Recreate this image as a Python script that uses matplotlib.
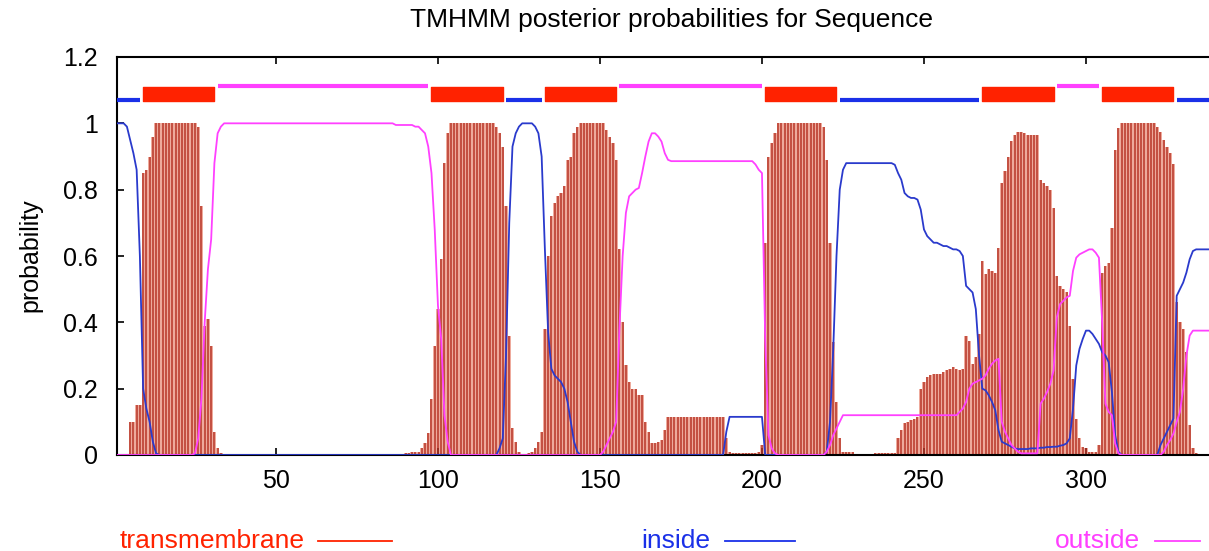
import matplotlib
matplotlib.use('Agg')
import matplotlib.pyplot as plt
from matplotlib.lines import Line2D
import numpy as np

# posterior probabilities per residue (1..338)
tm = [0, 0, 0, 0, 0.10, 0.10, 0.15, 0.15, 0.85, 0.86, 0.90, 0.96, 1, 1, 1, 1, 1, 1, 1, 1,
      1, 1, 1, 1, 1, 0.99, 0.75, 0.39, 0.41, 0.33, 0.07, 0.02, 0.005, 0.003, 0, 0, 0, 0, 0, 0,
      0, 0, 0, 0, 0, 0, 0, 0, 0, 0, 0, 0, 0, 0, 0, 0, 0, 0, 0, 0,
      0, 0, 0, 0, 0, 0, 0, 0, 0, 0, 0, 0, 0, 0, 0, 0, 0, 0, 0, 0,
      0, 0, 0, 0, 0, 0, 0, 0.003, 0.003, 0.005, 0.005, 0.008, 0.01, 0.01, 0.02, 0.035, 0.065, 0.17, 0.33, 0.44,
      0.59, 0.88, 0.97, 1, 1, 1, 1, 1, 1, 1, 1, 1, 1, 1, 1, 1, 1, 0.99, 0.97, 0.93,
      0.75, 0.36, 0.08, 0.04, 0.01, 0, 0, 0.005, 0.01, 0.02, 0.04, 0.07, 0.38, 0.6, 0.72, 0.76, 0.78, 0.79, 0.81, 0.89,
      0.9, 0.97, 0.99, 1, 1, 1, 1, 1, 1, 1, 1, 0.98, 0.96, 0.94, 0.89, 0.62, 0.4, 0.27, 0.22, 0.2,
      0.2, 0.18, 0.18, 0.1, 0.07, 0.035, 0.035, 0.04, 0.045, 0.075, 0.115, 0.115, 0.115, 0.115, 0.115, 0.115, 0.115, 0.115, 0.115, 0.115,
      0.115, 0.115, 0.115, 0.115, 0.115, 0.115, 0.115, 0.115, 0.05, 0.01, 0.005, 0.005, 0.005, 0.005, 0.005, 0.005, 0.005, 0.005, 0.01, 0.03,
      0.64, 0.9, 0.94, 0.97, 1, 1, 1, 1, 1, 1, 1, 1, 1, 1, 1, 1, 1, 1, 0.99, 0.89,
      0.64, 0.34, 0.16, 0.05, 0.01, 0.01, 0.01, 0.01, 0, 0, 0, 0, 0, 0, 0.005, 0.005, 0.005, 0.005, 0.005, 0.005,
      0.005, 0.05, 0.075, 0.095, 0.1, 0.105, 0.11, 0.115, 0.2, 0.22, 0.235, 0.24, 0.245, 0.245, 0.245, 0.25, 0.255, 0.26, 0.265, 0.26,
      0.255, 0.26, 0.36, 0.345, 0.275, 0.295, 0.365, 0.585, 0.545, 0.56, 0.555, 0.55, 0.625, 0.82, 0.855, 0.9, 0.946, 0.965, 0.975, 0.975,
      0.97, 0.965, 0.965, 0.965, 0.965, 0.83, 0.82, 0.81, 0.8, 0.745, 0.54, 0.51, 0.5, 0.49, 0.39, 0.23, 0.11, 0.05, 0.025, 0.02,
      0.008, 0.008, 0.008, 0.03, 0.55, 0.57, 0.58, 0.685, 0.92, 0.985, 1, 1, 1, 1, 1, 1, 1, 1, 1, 1,
      1, 0.99, 0.975, 0.95, 0.93, 0.91, 0.876, 0.46, 0.4, 0.38, 0.31, 0.09, 0.02, 0.005, 0, 0, 0, 0]

inside = [1, 1, 1, 0.99, 0.95, 0.91, 0.86, 0.6, 0.2, 0.14, 0.1, 0.04, 0.005, 0, 0, 0, 0, 0, 0, 0,
          0, 0, 0, 0, 0, 0, 0, 0, 0, 0, 0, 0, 0, 0, 0, 0, 0, 0, 0, 0,
          0, 0, 0, 0, 0, 0, 0, 0, 0, 0, 0, 0, 0, 0, 0, 0, 0, 0, 0, 0,
          0, 0, 0, 0, 0, 0, 0, 0, 0, 0, 0, 0, 0, 0, 0, 0, 0, 0, 0, 0,
          0, 0, 0, 0, 0, 0, 0, 0, 0, 0, 0, 0, 0, 0, 0, 0, 0, 0, 0, 0,
          0, 0, 0, 0, 0, 0, 0, 0, 0, 0, 0, 0, 0, 0, 0, 0, 0, 0, 0.02, 0.05,
          0.3, 0.7, 0.93, 0.97, 0.99, 1, 1, 1, 1, 0.99, 0.97, 0.9, 0.62, 0.37, 0.26, 0.24, 0.23, 0.22, 0.2, 0.16,
          0.1, 0.04, 0.01, 0, 0, 0, 0, 0, 0, 0, 0, 0, 0, 0, 0, 0, 0, 0, 0, 0,
          0, 0, 0, 0, 0, 0, 0, 0, 0, 0, 0, 0, 0, 0, 0, 0, 0, 0, 0, 0,
          0, 0, 0, 0, 0, 0, 0, 0, 0.07, 0.115, 0.115, 0.115, 0.115, 0.115, 0.115, 0.115, 0.115, 0.115, 0.115, 0.115,
          0, 0, 0, 0, 0, 0, 0, 0, 0, 0, 0, 0, 0, 0, 0, 0, 0, 0, 0, 0.01,
          0.1, 0.32, 0.6, 0.8, 0.86, 0.88, 0.88, 0.88, 0.88, 0.88, 0.88, 0.88, 0.88, 0.88, 0.88, 0.88, 0.88, 0.88, 0.88, 0.88,
          0.875, 0.85, 0.83, 0.79, 0.78, 0.775, 0.775, 0.77, 0.74, 0.68, 0.66, 0.65, 0.64, 0.64, 0.635, 0.63, 0.63, 0.625, 0.62, 0.62,
          0.615, 0.6, 0.51, 0.5, 0.49, 0.44, 0.3, 0.2, 0.195, 0.18, 0.16, 0.135, 0.075, 0.04, 0.035, 0.03, 0.025, 0.02, 0.018, 0.018,
          0.018, 0.018, 0.02, 0.02, 0.02, 0.022, 0.022, 0.024, 0.024, 0.025, 0.025, 0.028, 0.03, 0.035, 0.05, 0.14, 0.27, 0.32, 0.35, 0.375,
          0.375, 0.365, 0.35, 0.335, 0.31, 0.3, 0.28, 0.19, 0.06, 0.01, 0, 0, 0, 0, 0, 0, 0, 0, 0, 0,
          0, 0, 0.03, 0.05, 0.07, 0.09, 0.11, 0.48, 0.5, 0.52, 0.55, 0.59, 0.615, 0.62, 0.62, 0.62, 0.62, 0.62]

outside = [0, 0, 0, 0, 0, 0, 0, 0, 0, 0, 0, 0, 0, 0, 0, 0, 0, 0, 0, 0,
           0, 0, 0, 0, 0.005, 0.05, 0.17, 0.4, 0.56, 0.65, 0.88, 0.97, 0.99, 1, 1, 1, 1, 1, 1, 1,
           1, 1, 1, 1, 1, 1, 1, 1, 1, 1, 1, 1, 1, 1, 1, 1, 1, 1, 1, 1,
           1, 1, 1, 1, 1, 1, 1, 1, 1, 1, 1, 1, 1, 1, 1, 1, 1, 1, 1, 1,
           1, 1, 1, 1, 1, 1, 0.995, 0.995, 0.995, 0.995, 0.995, 0.995, 0.99, 0.99, 0.98, 0.97, 0.93, 0.85, 0.68, 0.45,
           0.35, 0.12, 0.04, 0, 0, 0, 0, 0, 0, 0, 0, 0, 0, 0, 0, 0, 0, 0, 0, 0,
           0, 0, 0, 0, 0, 0, 0, 0, 0, 0, 0, 0, 0, 0, 0, 0, 0, 0, 0, 0,
           0, 0, 0, 0, 0, 0, 0, 0, 0, 0, 0.01, 0.03, 0.05, 0.07, 0.1, 0.38, 0.6, 0.73, 0.78, 0.79,
           0.8, 0.805, 0.85, 0.9, 0.945, 0.97, 0.97, 0.96, 0.945, 0.91, 0.89, 0.886, 0.886, 0.886, 0.886, 0.886, 0.886, 0.886, 0.886, 0.886,
           0.886, 0.886, 0.886, 0.886, 0.886, 0.886, 0.886, 0.886, 0.886, 0.886, 0.886, 0.886, 0.886, 0.886, 0.886, 0.886, 0.886, 0.876, 0.86, 0.85,
           0.35, 0.06, 0.02, 0.005, 0, 0, 0, 0, 0, 0, 0, 0, 0, 0, 0, 0, 0, 0, 0, 0.01,
           0.03, 0.06, 0.08, 0.1, 0.12, 0.12, 0.12, 0.12, 0.12, 0.12, 0.12, 0.12, 0.12, 0.12, 0.12, 0.12, 0.12, 0.12, 0.12, 0.12,
           0.12, 0.12, 0.12, 0.12, 0.12, 0.12, 0.12, 0.12, 0.12, 0.12, 0.12, 0.12, 0.12, 0.12, 0.12, 0.12, 0.12, 0.12, 0.12, 0.12,
           0.13, 0.14, 0.16, 0.2, 0.215, 0.22, 0.225, 0.23, 0.24, 0.26, 0.275, 0.285, 0.29, 0.1, 0.07, 0.05, 0.03, 0.02, 0.01, 0.005,
           0.005, 0.005, 0.005, 0.005, 0.005, 0.155, 0.17, 0.19, 0.215, 0.255, 0.415, 0.455, 0.465, 0.475, 0.48, 0.555, 0.595, 0.605, 0.61, 0.615,
           0.62, 0.62, 0.61, 0.595, 0.4, 0.155, 0.13, 0.12, 0.035, 0.005, 0, 0, 0, 0, 0, 0, 0, 0, 0, 0,
           0, 0, 0, 0.01, 0.03, 0.045, 0.065, 0.1, 0.13, 0.2, 0.3, 0.36, 0.375, 0.375, 0.375, 0.375, 0.375, 0.375]

# predicted topology shown above the curves
tm_segments = [(9, 31), (98, 120), (133, 155), (201, 223), (268, 290), (305, 327)]
inside_segments = [(1, 8), (121, 132), (224, 267), (328, 338)]
outside_segments = [(32, 97), (156, 200), (291, 304)]

x_ticks = [50, 100, 150, 200, 250, 300]
y_ticks = [0, 0.2, 0.4, 0.6, 0.8, 1, 1.2]
y_ticklabels = ['0', '0.2', '0.4', '0.6', '0.8', '1', '1.2']

RED = '#ff2200'
BLUE = '#1a30e8'
MAGENTA = '#ff40ff'

plt.rcParams['font.family'] = ['Liberation Sans', 'DejaVu Sans']

W, H = 1209, 551
fig = plt.figure(figsize=(W / 100, H / 100), dpi=100)
ax = fig.add_axes([117.2 / W, (H - 455) / H, 1091.9 / W, 398 / H])

residues = np.arange(1, len(tm) + 1)

# impulses for transmembrane probability
ax.bar(residues, tm, width=1.0, color='#eeaa9c', linewidth=0, zorder=1)
ax.vlines(residues, 0, tm, color='#b83628', linewidth=1.1, zorder=2)

ax.plot(residues, inside, color='#2a3acc', linewidth=1.3, zorder=3)
ax.plot(residues, outside, color=MAGENTA, linewidth=1.3, zorder=3)

# topology bar on top
ax.broken_barh([(s, e - s) for s, e in tm_segments], (1.066, 0.045), color=RED, zorder=3)
ax.hlines([1.069] * len(inside_segments), [s for s, e in inside_segments],
          [e for s, e in inside_segments], color=BLUE, linewidth=3, zorder=3)
ax.hlines([1.112] * len(outside_segments), [s for s, e in outside_segments],
          [e for s, e in outside_segments], color=MAGENTA, linewidth=3, zorder=3)

ax.set_xlim(1, 338)
ax.set_ylim(0, 1.2)
ax.set_xticks(x_ticks)
ax.set_yticks(y_ticks)
ax.set_yticklabels(y_ticklabels)
ax.tick_params(direction='in', length=5, width=1.2, top=True, right=False,
               labelsize=18, pad=10)
ax.tick_params(axis='y', pad=14)
for side in ['left', 'bottom', 'top']:
    ax.spines[side].set_linewidth(1.5)
ax.spines['right'].set_visible(False)

fig.text(671 / W, 1 - 20 / H, 'TMHMM posterior probabilities for Sequence',
         ha='center', va='center', fontsize=19)
fig.text(30 / W, 1 - 255 / H, 'probability', rotation=90,
         ha='center', va='center', fontsize=18)

# legend along the bottom
legend_items = [('transmembrane', RED, 305, 318, 392),
                ('inside', BLUE, 710, 725, 795),
                ('outside', MAGENTA, 1140, 1155, 1200)]
ly = 1 - 541 / H
for label, col, tx, x0, x1 in legend_items:
    fig.text(tx / W, ly, label, ha='right', va='center', fontsize=19, color=col)
    fig.add_artist(Line2D([x0 / W, x1 / W], [ly, ly], color=col, linewidth=1.3))

fig.savefig('out.png', dpi=100)
